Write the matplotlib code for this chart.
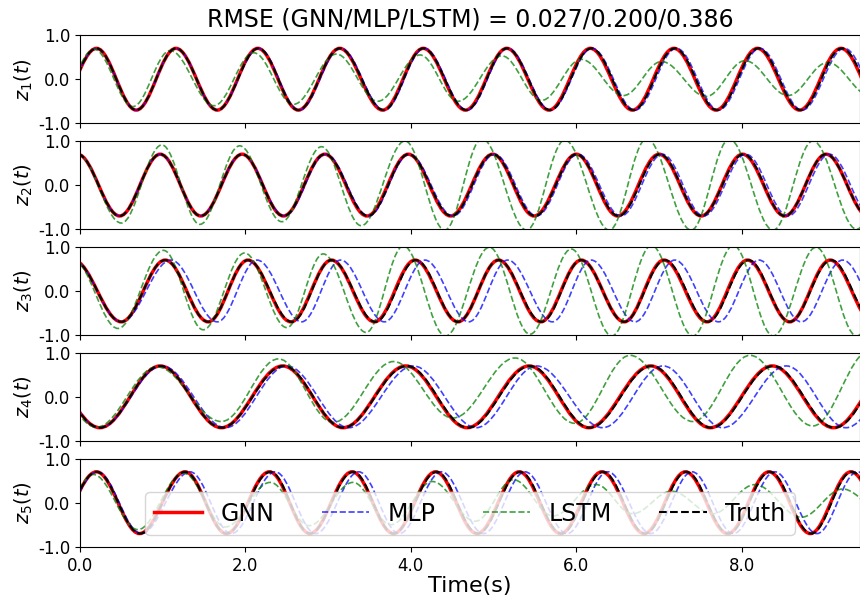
import matplotlib
matplotlib.use('Agg')
import matplotlib.pyplot as plt
from matplotlib.path import Path
from matplotlib.patches import PathPatch
from matplotlib.lines import Line2D

# Extrema of each trace (time in s, value).
# First and last entries sit just outside the visible window.
z1_truth = [(-0.30, -0.70), (0.20, 0.70), (0.68, -0.70), (1.16, 0.70), (1.66, -0.70), (2.155, 0.70),
            (2.64, -0.70), (3.14, 0.70), (3.67, -0.70), (4.15, 0.70), (4.67, -0.70), (5.16, 0.70),
            (5.68, -0.70), (6.18, 0.70), (6.69, -0.70), (7.19, 0.70), (7.70, -0.70), (8.20, 0.70),
            (8.71, -0.70), (9.21, 0.70), (9.72, -0.70)]
z1_gnn = [(-0.30, -0.70), (0.20, 0.70), (0.68, -0.70), (1.16, 0.70), (1.66, -0.70), (2.15, 0.70),
          (2.64, -0.70), (3.14, 0.70), (3.66, -0.70), (4.15, 0.70), (4.66, -0.70), (5.16, 0.70),
          (5.67, -0.70), (6.17, 0.70), (6.68, -0.70), (7.18, 0.70), (7.69, -0.70), (8.19, 0.70),
          (8.70, -0.70), (9.20, 0.70), (9.71, -0.70)]
z1_mlp = [(-0.30, -0.70), (0.20, 0.70), (0.68, -0.70), (1.16, 0.70), (1.66, -0.70), (2.16, 0.70),
          (2.65, -0.70), (3.15, 0.70), (3.68, -0.70), (4.16, 0.70), (4.68, -0.70), (5.17, 0.70),
          (5.69, -0.70), (6.19, 0.70), (6.71, -0.70), (7.21, 0.70), (7.72, -0.70), (8.22, 0.70),
          (8.73, -0.70), (9.24, 0.70), (9.75, -0.70)]
z1_lstm = [(-0.30, -0.65), (0.17, 0.68), (0.64, -0.62), (1.09, 0.65), (1.62, -0.60), (2.10, 0.60),
           (2.58, -0.57), (3.10, 0.57), (3.60, -0.50), (4.11, 0.55), (4.57, -0.50), (5.10, 0.53),
           (5.58, -0.48), (6.06, 0.45), (6.57, -0.37), (7.03, 0.40), (7.57, -0.39), (8.04, 0.42),
           (8.56, -0.37), (9.04, 0.38), (9.55, -0.37)]

z2_truth = [(-0.03, 0.70), (0.48, -0.70), (0.97, 0.70), (1.46, -0.70), (1.96, 0.70), (2.46, -0.70),
            (2.96, 0.70), (3.48, -0.70), (3.97, 0.70), (4.49, -0.70), (4.99, 0.70), (5.50, -0.70),
            (6.00, 0.70), (6.51, -0.70), (7.01, 0.70), (7.51, -0.70), (8.02, 0.70), (8.52, -0.70),
            (9.02, 0.70), (9.53, -0.70)]
z2_gnn = [(-0.03, 0.70), (0.48, -0.70), (0.97, 0.70), (1.46, -0.70), (1.96, 0.70), (2.46, -0.70),
          (2.96, 0.70), (3.47, -0.70), (3.97, 0.70), (4.48, -0.70), (4.99, 0.70), (5.49, -0.70),
          (6.00, 0.70), (6.50, -0.70), (7.00, 0.70), (7.51, -0.70), (8.01, 0.70), (8.52, -0.70),
          (9.02, 0.70), (9.53, -0.70)]
z2_mlp = [(-0.03, 0.70), (0.48, -0.70), (0.97, 0.70), (1.46, -0.70), (1.96, 0.70), (2.47, -0.70),
          (2.97, 0.70), (3.49, -0.70), (3.98, 0.70), (4.51, -0.70), (5.01, 0.70), (5.52, -0.70),
          (6.02, 0.70), (6.54, -0.70), (7.04, 0.70), (7.54, -0.70), (8.05, 0.70), (8.56, -0.70),
          (9.06, 0.70), (9.57, -0.70)]
z2_lstm = [(-0.03, 0.70), (0.50, -0.86), (0.99, 0.91), (1.45, -0.89), (1.93, 0.89), (2.44, -0.83),
           (2.92, 0.87), (3.40, -0.92), (3.93, 1.00), (4.41, -1.02), (4.86, 1.05), (5.40, -1.02),
           (5.86, 1.02), (6.40, -1.02), (6.85, 1.05), (7.39, -1.02), (7.85, 1.04), (8.38, -1.02),
           (8.86, 1.00), (9.39, -1.00), (9.88, 1.00)]

z3_truth = [(-0.08, 0.70), (0.50, -0.70), (1.03, 0.70), (1.55, -0.70), (2.03, 0.70), (2.56, -0.70),
            (3.04, 0.70), (3.57, -0.70), (4.06, 0.70), (4.57, -0.70), (5.06, 0.70), (5.58, -0.70),
            (6.06, 0.70), (6.58, -0.70), (7.07, 0.70), (7.59, -0.70), (8.08, 0.70), (8.58, -0.70),
            (9.08, 0.70), (9.60, -0.70)]
z3_gnn = [(-0.08, 0.70), (0.50, -0.70), (1.03, 0.70), (1.55, -0.70), (2.03, 0.70), (2.55, -0.70),
          (3.04, 0.70), (3.56, -0.70), (4.05, 0.70), (4.57, -0.70), (5.06, 0.70), (5.57, -0.70),
          (6.06, 0.70), (6.58, -0.70), (7.06, 0.70), (7.58, -0.70), (8.07, 0.70), (8.58, -0.70),
          (9.07, 0.70), (9.59, -0.70)]
z3_mlp = [(-0.08, 0.70), (0.50, -0.70), (1.10, 0.70), (1.66, -0.70), (2.14, 0.70), (2.68, -0.70),
          (3.15, 0.70), (3.68, -0.70), (4.17, 0.70), (4.70, -0.70), (5.17, 0.70), (5.71, -0.70),
          (6.18, 0.70), (6.71, -0.70), (7.19, 0.70), (7.72, -0.70), (8.21, 0.70), (8.72, -0.70),
          (9.22, 0.70), (9.75, -0.70)]
z3_lstm = [(-0.08, 0.70), (0.46, -0.85), (1.01, 0.92), (1.49, -0.88), (1.99, 0.86), (2.50, -0.83),
           (2.94, 0.84), (3.46, -0.94), (3.91, 1.02), (4.42, -1.02), (4.95, 0.99), (5.44, -0.98),
           (5.94, 0.95), (6.43, -1.02), (6.91, 1.03), (7.41, -1.02), (7.90, 1.03), (8.38, -1.02),
           (8.90, 0.99), (9.39, -1.02), (9.90, 0.90)]

z4_truth = [(-0.49, 0.70), (0.24, -0.70), (0.97, 0.70), (1.71, -0.70), (2.46, 0.70), (3.18, -0.70),
            (3.95, 0.70), (4.69, -0.70), (5.44, 0.70), (6.16, -0.70), (6.91, 0.70), (7.63, -0.70),
            (8.38, 0.70), (9.12, -0.70), (9.85, 0.70)]
z4_gnn = [(-0.49, 0.70), (0.24, -0.70), (0.97, 0.70), (1.71, -0.70), (2.45, 0.70), (3.18, -0.70),
          (3.94, 0.70), (4.68, -0.70), (5.43, 0.70), (6.15, -0.70), (6.90, 0.70), (7.62, -0.70),
          (8.37, 0.70), (9.11, -0.70), (9.84, 0.70)]
z4_mlp = [(-0.49, 0.70), (0.24, -0.70), (0.99, 0.70), (1.76, -0.70), (2.50, 0.70), (3.25, -0.70),
          (4.03, 0.70), (4.79, -0.70), (5.52, 0.70), (6.32, -0.70), (7.05, 0.70), (7.77, -0.70),
          (8.54, 0.70), (9.26, -0.70), (10.00, 0.70)]
z4_lstm = [(-0.50, 0.70), (0.20, -0.69), (0.93, 0.68), (1.71, -0.56), (2.40, 0.86), (3.06, -0.58),
           (3.79, 0.80), (4.51, -0.48), (5.26, 0.88), (5.98, -0.60), (6.65, 0.94), (7.41, -0.56),
           (8.10, 0.94), (8.86, -0.66), (9.55, 1.05)]

z5_truth = [(-0.34, -0.70), (0.20, 0.70), (0.725, -0.70), (1.27, 0.70), (1.77, -0.70), (2.30, 0.70),
            (2.78, -0.70), (3.30, 0.70), (3.79, -0.70), (4.31, 0.70), (4.81, -0.70), (5.32, 0.70),
            (5.82, -0.70), (6.32, 0.70), (6.83, -0.70), (7.33, 0.70), (7.84, -0.70), (8.34, 0.70),
            (8.84, -0.70), (9.33, 0.70), (9.84, -0.70)]
z5_gnn = [(-0.34, -0.70), (0.20, 0.70), (0.72, -0.70), (1.27, 0.70), (1.77, -0.70), (2.29, 0.70),
          (2.78, -0.70), (3.29, 0.70), (3.79, -0.70), (4.30, 0.70), (4.80, -0.70), (5.31, 0.70),
          (5.81, -0.70), (6.31, 0.70), (6.82, -0.70), (7.32, 0.70), (7.83, -0.70), (8.33, 0.70),
          (8.83, -0.70), (9.32, 0.70), (9.83, -0.70)]
z5_mlp = [(-0.34, -0.70), (0.21, 0.70), (0.74, -0.70), (1.33, 0.70), (1.83, -0.70), (2.36, 0.70),
          (2.85, -0.70), (3.37, 0.70), (3.86, -0.70), (4.37, 0.70), (4.88, -0.70), (5.38, 0.70),
          (5.89, -0.70), (6.38, 0.70), (6.90, -0.70), (7.40, 0.70), (7.90, -0.70), (8.40, 0.70),
          (8.91, -0.70), (9.40, 0.70), (9.91, -0.70)]
z5_lstm = [(-0.34, -0.68), (0.16, 0.64), (0.70, -0.61), (1.25, 0.67), (1.76, -0.55), (2.30, 0.46),
           (2.77, -0.52), (3.30, 0.46), (3.76, -0.50), (4.26, 0.48), (4.78, -0.42), (5.24, 0.52),
           (5.72, -0.30), (6.24, 0.41), (6.68, -0.25), (7.15, 0.26), (7.65, -0.25), (8.16, 0.41),
           (8.72, -0.33), (9.22, 0.31), (9.75, -0.30)]

panels = [
    (z1_gnn, z1_mlp, z1_lstm, z1_truth),
    (z2_gnn, z2_mlp, z2_lstm, z2_truth),
    (z3_gnn, z3_mlp, z3_lstm, z3_truth),
    (z4_gnn, z4_mlp, z4_lstm, z4_truth),
    (z5_gnn, z5_mlp, z5_lstm, z5_truth),
]
labels = ['GNN', 'MLP', 'LSTM', 'Truth']
rmse = [0.027, 0.200, 0.386]
t_end = 9.43

styles = [
    dict(color='red', lw=2.5, ls='-', alpha=1.0),
    dict(color='blue', lw=1.2, ls='--', alpha=0.75),
    dict(color='green', lw=1.2, ls='--', alpha=0.75),
    dict(color='black', lw=1.5, ls='--', alpha=1.0),
]


def smooth_path(points, k=0.3634):
    # cubic bezier between neighbouring extrema, flat tangent at each extremum
    verts = [points[0]]
    codes = [Path.MOVETO]
    for (t0, v0), (t1, v1) in zip(points[:-1], points[1:]):
        dt = t1 - t0
        verts += [(t0 + k * dt, v0), (t1 - k * dt, v1), (t1, v1)]
        codes += [Path.CURVE4] * 3
    return Path(verts, codes)


plt.rcParams['axes.unicode_minus'] = False
fig, axes = plt.subplots(5, 1, sharex=True, figsize=(8.6, 5.95), dpi=100)
fig.subplots_adjust(left=0.093, right=1.0, top=0.941, bottom=0.081, hspace=0.2)

for i, (ax, traces) in enumerate(zip(axes, panels)):
    for pts, st in zip(traces, styles):
        ax.add_patch(PathPatch(smooth_path(pts), fill=False, edgecolor=st['color'],
                               lw=st['lw'], ls=st['ls'], alpha=st['alpha']))
    ax.set_xlim(0, t_end)
    ax.set_ylim(-1, 1)
    ax.set_yticks([-1, 0, 1])
    ax.set_yticklabels(['-1.0', '0.0', '1.0'])
    ax.tick_params(labelsize=12)
    ax.set_ylabel(f'$z_{i + 1}(t)$', fontsize=14, labelpad=2)

axes[-1].set_xticks([0, 2, 4, 6, 8])
axes[-1].set_xticklabels(['0.0', '2.0', '4.0', '6.0', '8.0'])
axes[-1].set_xlabel('Time(s)', fontsize=16, labelpad=1)
axes[0].set_title('RMSE (GNN/MLP/LSTM) = {:.3f}/{:.3f}/{:.3f}'.format(*rmse), fontsize=17)

handles = [Line2D([], [], color=st['color'], lw=st['lw'], ls=st['ls'], alpha=st['alpha'])
           for st in styles]
axes[-1].legend(handles, labels, loc='lower center', ncol=4, fontsize=17)

fig.savefig('out.png', dpi=100)
